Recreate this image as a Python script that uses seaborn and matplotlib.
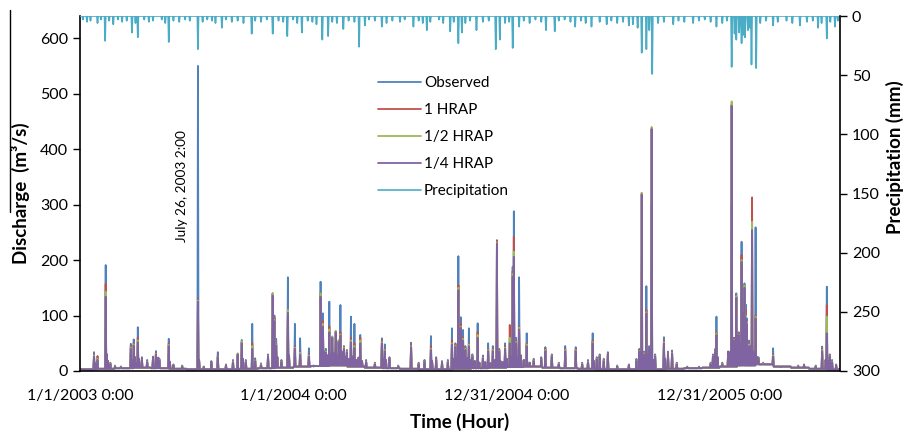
import numpy as np
import pandas as pd
import matplotlib
matplotlib.use("Agg")
import matplotlib.pyplot as plt
from matplotlib.lines import Line2D
import seaborn as sns

# ---------------- data ----------------
series_names = ["Observed", "1 HRAP", "1/2 HRAP", "1/4 HRAP"]
series_colors = ["#4F81BD", "#C0504D", "#9BBB59", "#8064A2"]
precip_color = "#4BACC6"

tick_hours = [0, 8760, 17520, 26280]
tick_labels = ["1/1/2003 0:00", "1/1/2004 0:00", "12/31/2004 0:00", "12/31/2005 0:00"]
n_days = 1302

# monthly base flow (m3/s), Jan 2003 .. Jul 2006
base_flow = [3, 4, 5, 6, 5, 4, 3, 3, 3, 4, 5, 6,
             8, 9, 10, 8, 6, 5, 4, 3, 3, 4, 5, 6,
             7, 8, 6, 5, 4, 3, 3, 3, 3, 4, 5, 6,
             8, 10, 12, 8, 6, 4, 3]

# minor flow days (same for all series)
minor_day = [26, 28, 46, 48, 89, 94, 96, 101, 132, 134, 154, 204, 279, 332, 338, 358, 414,
             418, 424, 430, 435, 440, 448, 455, 460, 466, 473, 477, 483, 519, 524, 603, 639,
             645, 650, 654, 658, 663, 668, 676, 684, 694, 703, 711, 716, 720, 724, 731, 738,
             745, 749, 755, 760, 770, 880, 968, 972, 977, 982, 1002, 1086, 1092, 1112, 1114,
             1118, 1122, 1126, 1131, 1135, 1144, 1149, 1153, 1155, 1160, 1277, 1281]
minor_q = [14, 10, 30, 18, 20, 25, 15, 22, 18, 24, 16, 20, 22, 30, 25, 28, 30,
           35, 28, 30, 32, 28, 35, 25, 22, 26, 20, 24, 18, 22, 20, 18, 22,
           26, 30, 28, 25, 24, 20, 18, 15, 16, 14, 20, 25, 18, 16, 22, 26,
           30, 24, 28, 20, 15, 18, 25, 30, 35, 20, 22, 18, 25, 30, 35,
           40, 45, 42, 50, 48, 40, 45, 35, 30, 25, 20, 18]

# flow events: day since 1/1/2003, peaks for each series
event_day = [24, 30, 44, 52, 60, 70, 87, 92, 99, 106, 115, 125, 130, 136, 152, 160, 175, 202,
             212, 225, 236, 250, 262, 270, 277, 284, 295, 300, 310, 322, 330, 333, 336, 345,
             356, 368, 377, 392, 400, 412, 416, 421, 427, 432, 438, 443, 446, 452, 457, 464,
             470, 480, 490, 505, 517, 522, 530, 545, 567, 580, 590, 601, 610, 620, 630, 637,
             643, 648, 652, 656, 660, 666, 672, 681, 690, 699, 707, 714, 718, 728, 736, 741,
             743, 747, 752, 765, 777, 790, 797, 808, 820, 831, 849, 860, 870, 878, 885, 890,
             897, 904, 920, 940, 953, 958, 962, 966, 970, 975, 979, 985, 1000, 1007, 1014,
             1022, 1040, 1060, 1080, 1084, 1088, 1090, 1100, 1110, 1116, 1120, 1124, 1128,
             1133, 1136, 1138, 1140, 1142, 1146, 1151, 1157, 1162, 1170, 1187, 1200, 1230,
             1240, 1260, 1271, 1279, 1284, 1288, 1295]
obs_peak = [34, 12, 191, 15, 10, 8, 49, 57, 79, 25, 20, 26, 36, 22, 58, 12, 10, 550,
            8, 18, 34, 12, 20, 28, 56, 20, 85, 23, 14, 30, 140, 100, 58, 20,
            169, 85, 59, 41, 10, 161, 104, 40, 125, 60, 71, 55, 119, 45, 38, 98,
            85, 65, 20, 15, 59, 48, 25, 10, 51, 15, 20, 63, 25, 18, 20, 77,
            50, 207, 97, 74, 45, 77, 30, 86, 28, 50, 45, 120, 40, 50, 40, 188,
            288, 60, 169, 68, 22, 25, 43, 30, 15, 45, 43, 15, 20, 68, 25, 30,
            22, 34, 10, 12, 22, 40, 100, 35, 153, 45, 300, 30, 61, 35, 37,
            15, 8, 8, 15, 30, 40, 98, 15, 30, 300, 60, 140, 70,
            233, 110, 158, 120, 95, 55, 60, 259, 25, 15, 41, 8, 10,
            12, 10, 44, 152, 30, 20, 12]
hrap1_peak = [30, 27, 157, 14, 9, 8, 45, 50, 60, 22, 18, 24, 33, 20, 50, 11, 9, 130,
              8, 16, 28, 11, 18, 30, 52, 18, 50, 20, 12, 28, 140, 95, 50, 18,
              110, 45, 35, 30, 9, 140, 90, 35, 80, 62, 72, 55, 70, 44, 36, 60,
              50, 60, 18, 14, 55, 40, 22, 9, 48, 14, 18, 45, 22, 16, 18, 55,
              48, 155, 85, 60, 42, 50, 28, 70, 25, 40, 40, 236, 38, 45, 83, 180,
              242, 55, 80, 50, 20, 22, 40, 28, 14, 40, 40, 14, 18, 55, 23, 28,
              20, 32, 9, 11, 20, 38, 321, 33, 110, 40, 437, 28, 55, 32, 35,
              14, 7, 7, 14, 28, 38, 70, 14, 35, 480, 58, 135, 68,
              209, 108, 154, 110, 90, 50, 313, 100, 23, 14, 30, 7, 9,
              11, 9, 40, 119, 28, 18, 11]
hrap2_peak = [28, 22, 143, 13, 9, 7, 42, 48, 55, 20, 17, 22, 31, 19, 47, 10, 9, 127,
              7, 15, 26, 10, 17, 32, 54, 17, 45, 19, 12, 27, 140, 92, 48, 17,
              110, 42, 33, 28, 9, 140, 85, 35, 75, 62, 72, 55, 66, 42, 35, 55,
              45, 55, 17, 13, 52, 38, 20, 9, 45, 13, 17, 40, 20, 15, 17, 50,
              46, 150, 80, 58, 40, 48, 27, 65, 24, 38, 38, 232, 36, 42, 60, 175,
              215, 52, 78, 48, 19, 20, 38, 27, 13, 38, 38, 13, 17, 52, 22, 27,
              19, 30, 9, 10, 19, 36, 321, 32, 106, 40, 440, 27, 52, 30, 33,
              13, 7, 7, 13, 27, 36, 68, 13, 35, 486, 56, 135, 66,
              200, 106, 154, 100, 88, 48, 269, 98, 22, 13, 28, 7, 9,
              10, 9, 38, 98, 27, 17, 10]
hrap4_peak = [26, 20, 134, 12, 8, 7, 40, 46, 52, 20, 16, 22, 30, 18, 45, 10, 8, 125,
              7, 15, 25, 10, 16, 30, 50, 16, 40, 18, 11, 26, 136, 90, 46, 16,
              105, 40, 30, 26, 8, 134, 80, 33, 70, 60, 70, 52, 64, 40, 34, 52,
              42, 50, 16, 12, 50, 36, 20, 8, 43, 12, 16, 38, 20, 15, 16, 48,
              44, 146, 78, 55, 38, 45, 26, 60, 23, 36, 36, 230, 35, 40, 50, 170,
              206, 50, 75, 45, 18, 20, 36, 26, 12, 36, 36, 12, 16, 50, 21, 26,
              18, 30, 8, 10, 18, 35, 318, 30, 104, 40, 436, 26, 50, 30, 32,
              12, 7, 7, 12, 26, 35, 65, 12, 35, 478, 55, 132, 65,
              197, 105, 150, 95, 85, 45, 254, 95, 21, 12, 26, 7, 8,
              10, 8, 36, 68, 26, 16, 10]

# precipitation events: day since 1/1/2003, depth (mm)
precip_day = [5, 12, 18, 30, 36, 43, 50, 57, 65, 72, 80, 89, 95, 99, 110, 118, 125, 140, 146,
              152, 160, 170, 180, 188, 202, 210, 218, 226, 232, 243, 250, 260, 270, 280, 294,
              300, 310, 320, 330, 340, 348, 355, 365, 372, 380, 390, 398, 405, 415, 425, 432,
              440, 451, 460, 470, 478, 488, 495, 505, 517, 525, 535, 548, 556, 571, 580, 587,
              594, 600, 615, 622, 634, 640, 648, 654, 660, 668, 679, 690, 700, 712, 719, 728,
              735, 741, 752, 760, 770, 780, 790, 798, 813, 820, 830, 840, 848, 858, 866, 876,
              890, 902, 910, 920, 930, 940, 947, 955, 962, 970, 975, 980, 990, 1000, 1016,
              1025, 1035, 1050, 1060, 1070, 1080, 1090, 1100, 1108, 1116, 1121, 1124, 1129,
              1133, 1136, 1139, 1144, 1147, 1150, 1158, 1165, 1175, 1187, 1195, 1210, 1220,
              1233, 1245, 1255, 1264, 1270, 1279, 1285, 1293, 1298]
precip_mm = [3, 5, 4, 6, 3, 21, 4, 7, 3, 5, 4, 14, 6, 18, 3, 5, 4, 3, 6,
             22, 4, 5, 3, 4, 28, 5, 3, 4, 6, 10, 3, 5, 4, 6, 15,
             4, 5, 3, 15, 4, 5, 17, 3, 6, 14, 4, 5, 7, 20, 17, 5,
             6, 11, 4, 5, 26, 8, 3, 4, 9, 6, 4, 5, 3, 9, 4, 6,
             12, 5, 3, 6, 13, 5, 23, 14, 6, 4, 12, 5, 4, 28, 20, 6,
             5, 27, 9, 4, 6, 3, 5, 12, 13, 4, 3, 5, 9, 4, 6, 9,
             5, 7, 4, 6, 5, 8, 7, 10, 31, 28, 12, 49, 6, 5, 7,
             4, 5, 6, 4, 3, 5, 9, 6, 4, 43, 15, 20, 14,
             23, 16, 18, 12, 10, 41, 44, 6, 4, 8, 5, 4, 6,
             8, 5, 4, 10, 6, 19, 5, 9, 4]

# ---------------- build series ----------------
days = np.arange(n_days)
hours = days * 24
month_idx = np.minimum((days / 30.44).astype(int), len(base_flow) - 1)
base = np.array(base_flow, dtype=float)[month_idx]
base[np.array(minor_day)] = np.array(minor_q, dtype=float)

frames = []
for name, peaks in zip(series_names, [obs_peak, hrap1_peak, hrap2_peak, hrap4_peak]):
    q = base.copy()
    q[np.array(event_day)] = np.array(peaks, dtype=float)
    frames.append(pd.DataFrame({"hour": hours, "Q": q, "series": name}))
flow_df = pd.concat(frames, ignore_index=True)

p = np.zeros(n_days)
p[np.array(precip_day)] = np.array(precip_mm, dtype=float)
precip_df = pd.DataFrame({"hour": hours, "P": p})

# ---------------- plot ----------------
sns.set_theme(style="white")
plt.rcParams["font.family"] = ["Lato", "DejaVu Sans"]

fig = plt.figure(figsize=(9.12, 4.33), dpi=100)
ax = fig.add_axes([80 / 912, 1 - 371 / 433, 760 / 912, 355 / 433])

sns.lineplot(data=flow_df, x="hour", y="Q", hue="series", hue_order=series_names,
             palette=series_colors, estimator=None, linewidth=1.3, ax=ax)
ax.set_xlim(0, n_days * 24 - 10)
ax.set_ylim(0, 640)
ax.set_yticks([0, 100, 200, 300, 400, 500, 600])
ax.set_xticks(tick_hours)
ax.set_xticklabels(tick_labels)
ax.tick_params(axis="both", labelsize=11.5, colors="black", length=5, width=1, direction="out")
ax.tick_params(axis="x", pad=8)
for s in ["left", "bottom"]:
    ax.spines[s].set_color("black")
    ax.spines[s].set_linewidth(1.2)
ax.spines["top"].set_visible(False)
ax.spines["right"].set_visible(False)
ax.set_ylabel("Discharge  (m³/s)", fontsize=13.5, fontweight="bold", color="black")
ax.yaxis.set_label_coords(-0.066, 0.5)
ax.set_xlabel("Time (Hour)", fontsize=13.5, fontweight="bold", color="black")
ax.xaxis.set_label_coords(0.5, -0.118)

ax.text(4187, 333, "July 26, 2003 2:00", rotation=90, ha="center", va="center",
        fontsize=9.8, color="black")

ax2 = ax.twinx()
sns.lineplot(data=precip_df, x="hour", y="P", color=precip_color, linewidth=1.2,
             estimator=None, ax=ax2, label="Precipitation")
ax2.set_ylim(300, 0)
ax2.set_yticks([0, 50, 100, 150, 200, 250, 300])
ax2.tick_params(axis="y", labelsize=11.5, colors="black", length=5, width=1, direction="out")
ax2.spines["right"].set_color("black")
ax2.spines["right"].set_linewidth(1.2)
ax2.spines["top"].set_visible(False)
ax2.spines["left"].set_visible(False)
ax2.spines["bottom"].set_visible(False)
ax2.set_ylabel("Precipitation (mm)", fontsize=13.5, fontweight="bold", color="black")
ax2.yaxis.set_label_coords(1.0605, 0.603)
ax2.set_xlim(ax.get_xlim())

h1, l1 = ax.get_legend_handles_labels()
h2, l2 = ax2.get_legend_handles_labels()
if ax.get_legend() is not None:
    ax.get_legend().remove()
if ax2.get_legend() is not None:
    ax2.get_legend().remove()
leg = ax2.legend(h1 + h2, l1 + l2, loc="upper left", bbox_to_anchor=(0.392, 0.83),
                 frameon=False, fontsize=11, handlelength=2.8, handletextpad=0.2,
                 labelspacing=0.85, borderpad=0, borderaxespad=0)
for t in leg.get_texts():
    t.set_color("black")

fig.add_artist(Line2D([10 / 912, 10 / 912], [1 - 10 / 433, 1 - 212 / 433],
                      color="black", linewidth=1))

fig.savefig("out.png", dpi=100)
